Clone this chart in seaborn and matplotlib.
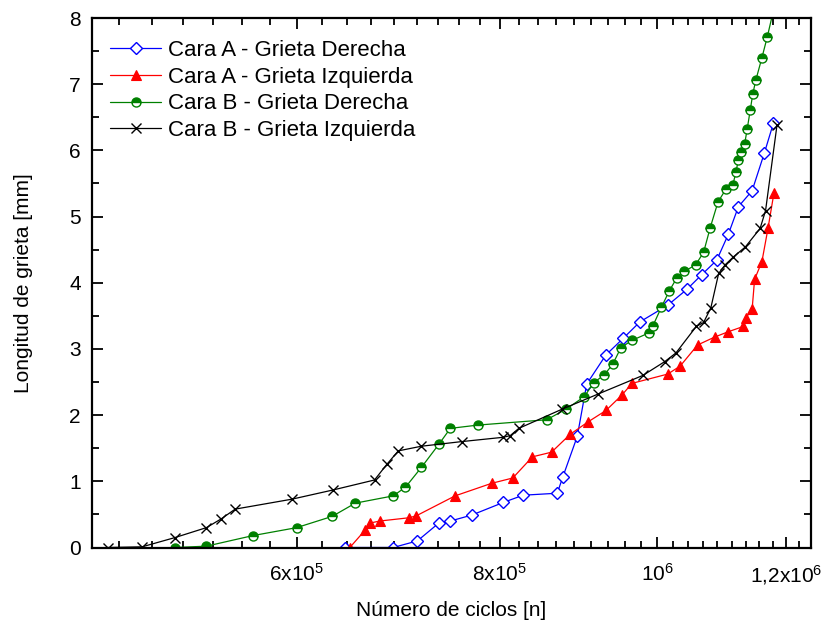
import numpy as np
import pandas as pd
import matplotlib
matplotlib.use("Agg")
import matplotlib.pyplot as plt
import seaborn as sns
from matplotlib.ticker import FixedLocator, NullFormatter

# Datos (ciclos, longitud de grieta en mm)

blue_x = [6.43e5, 6.88e5, 7.12e5, 7.34e5, 7.46e5, 7.69e5, 8.04e5, 8.27e5, 8.68e5, 8.75e5,
          8.93e5, 9.05e5, 9.30e5, 9.53e5, 9.76e5, 1.015e6, 1.043e6, 1.065e6, 1.088e6, 1.106e6,
          1.122e6, 1.144e6, 1.164e6, 1.179e6]
blue_y = [0, 0, 0.10, 0.37, 0.40, 0.49, 0.68, 0.79, 0.82, 1.07,
          1.68, 2.47, 2.91, 3.16, 3.41, 3.66, 3.90, 4.12, 4.34, 4.73,
          5.15, 5.39, 5.96, 6.41]

red_x = [6.47e5, 6.61e5, 6.66e5, 6.75e5, 7.04e5, 7.11e5, 7.51e5, 7.91e5, 8.15e5, 8.38e5,
         8.61e5, 8.84e5, 9.07e5, 9.30e5, 9.51e5, 9.65e5, 1.015e6, 1.033e6, 1.059e6, 1.085e6,
         1.106e6, 1.130e6, 1.134e6, 1.144e6, 1.148e6, 1.160e6, 1.170e6, 1.180e6]
red_y = [0, 0.26, 0.37, 0.40, 0.45, 0.48, 0.78, 0.97, 1.05, 1.37,
         1.44, 1.71, 1.90, 2.07, 2.30, 2.48, 2.62, 2.74, 3.06, 3.18,
         3.26, 3.34, 3.47, 3.60, 4.05, 4.32, 4.82, 5.36]

green_x = [5.05e5, 5.28e5, 5.64e5, 6.00e5, 6.31e5, 6.52e5, 6.88e5, 7.00e5, 7.16e5, 7.34e5,
           7.46e5, 7.76e5, 8.55e5, 8.79e5, 9.02e5, 9.14e5, 9.28e5, 9.39e5, 9.50e5, 9.65e5,
           9.88e5, 9.94e5, 1.006e6, 1.017e6, 1.028e6, 1.039e6, 1.056e6, 1.068e6, 1.078e6, 1.090e6,
           1.102e6, 1.113e6, 1.118e6, 1.122e6, 1.126e6, 1.132e6, 1.136e6, 1.141e6, 1.145e6, 1.150e6,
           1.160e6, 1.169e6, 1.180e6]
green_y = [0, 0.02, 0.18, 0.30, 0.47, 0.67, 0.78, 0.91, 1.21, 1.56,
           1.80, 1.85, 1.93, 2.09, 2.28, 2.49, 2.61, 2.77, 3.02, 3.13,
           3.24, 3.35, 3.63, 3.87, 4.07, 4.17, 4.27, 4.46, 4.83, 5.22,
           5.41, 5.47, 5.67, 5.86, 5.97, 6.10, 6.32, 6.61, 6.85, 7.06,
           7.40, 7.72, 8.15]

black_x = [4.59e5, 4.82e5, 5.05e5, 5.28e5, 5.39e5, 5.50e5, 5.96e5, 6.32e5, 6.70e5, 6.82e5,
           6.93e5, 7.16e5, 7.58e5, 8.04e5, 8.12e5, 8.22e5, 8.74e5, 9.20e5, 9.80e5, 1.011e6,
           1.027e6, 1.057e6, 1.068e6, 1.079e6, 1.091e6, 1.101e6, 1.114e6, 1.133e6, 1.157e6, 1.166e6,
           1.185e6]
black_y = [0, 0.01, 0.15, 0.30, 0.43, 0.58, 0.73, 0.87, 1.02, 1.26,
           1.46, 1.53, 1.60, 1.665, 1.69, 1.80, 2.09, 2.32, 2.60, 2.81,
           2.94, 3.34, 3.40, 3.62, 4.14, 4.27, 4.39, 4.54, 4.82, 5.09,
           6.38]

labels = ["Cara A - Grieta Derecha", "Cara A - Grieta Izquierda",
          "Cara B - Grieta Derecha", "Cara B - Grieta Izquierda"]

x_ticks = [6e5, 8e5, 1e6, 1.2e6]
x_ticklabels = [r"6x10$^{5}$", r"8x10$^{5}$", r"10$^{6}$", r"1,2x10$^{6}$"]


sns.set_style("ticks")
plt.rcParams['font.family'] = ['Liberation Sans', 'DejaVu Sans']
plt.rcParams['mathtext.fontset'] = 'custom'
plt.rcParams['mathtext.rm'] = 'Liberation Sans'
plt.rcParams['mathtext.it'] = 'Liberation Sans:italic'
plt.rcParams['text.color'] = 'black'
plt.rcParams['axes.labelcolor'] = 'black'

fig = plt.figure(figsize=(8.21, 6.28), dpi=100)
ax = fig.add_axes([92 / 821, 80.5 / 628, 718.7 / 821, 529.5 / 628])
ax.set_xscale('log')

sns.lineplot(x=blue_x, y=blue_y, ax=ax, color='#0000ff', lw=0.9, sort=False, estimator=None,
             marker='D', markersize=6, markerfacecolor='white', markeredgecolor='#0000ff',
             markeredgewidth=1.0, label=labels[0])
sns.lineplot(x=red_x, y=red_y, ax=ax, color='#ff0000', lw=0.9, sort=False, estimator=None,
             marker='^', markersize=7.5, markerfacecolor='#ff0000', markeredgecolor='#ff0000',
             markeredgewidth=0.8, label=labels[1])
sns.lineplot(x=green_x, y=green_y, ax=ax, color='#008000', lw=0.9, sort=False, estimator=None,
             marker='o', markersize=6.5, fillstyle='top', markerfacecolor='#008000',
             markerfacecoloralt='white', markeredgecolor='#008000', markeredgewidth=1.0,
             label=labels[2])
sns.lineplot(x=black_x, y=black_y, ax=ax, color='black', lw=0.9, sort=False, estimator=None,
             marker='x', markersize=7.5, markeredgecolor='black', markeredgewidth=1.0,
             label=labels[3])

ax.set_xlim(4.49e5, 1.243e6)
ax.set_ylim(0, 8)

ax.set_xticks(x_ticks)
ax.set_xticklabels(x_ticklabels)
ax.xaxis.set_minor_locator(FixedLocator(np.linspace(4e5, 1.4e6, 46)))
ax.xaxis.set_minor_formatter(NullFormatter())
ax.set_yticks(np.arange(0, 9, 1))
ax.yaxis.set_minor_locator(FixedLocator(np.arange(0.5, 8, 1)))

ax.tick_params(which='both', direction='in', top=True, right=True, width=1.3,
               labelsize=15, colors='black')
ax.tick_params(which='major', length=8)
ax.tick_params(which='minor', length=5)
ax.tick_params(axis='x', which='major', pad=11)
ax.tick_params(axis='y', which='major', pad=8)

for sp in ax.spines.values():
    sp.set_linewidth(1.6)
    sp.set_color('black')

ax.set_xlabel("Número de ciclos [n]", fontsize=15, color='black')
ax.set_ylabel("Longitud de grieta [mm]", fontsize=15, color='black')
ax.xaxis.set_label_coords(0.5, -0.101)
ax.yaxis.set_label_coords(-0.082, 0.5)

handles = ax.get_lines()[:4]
ax.legend(handles=handles, labels=labels, loc='upper left', bbox_to_anchor=(0.025, 0.958),
          frameon=False, fontsize=16, borderpad=0, borderaxespad=0,
          handlelength=2.3, handletextpad=0.3, labelspacing=0.25, numpoints=1)

fig.savefig("out.png", dpi=100)
